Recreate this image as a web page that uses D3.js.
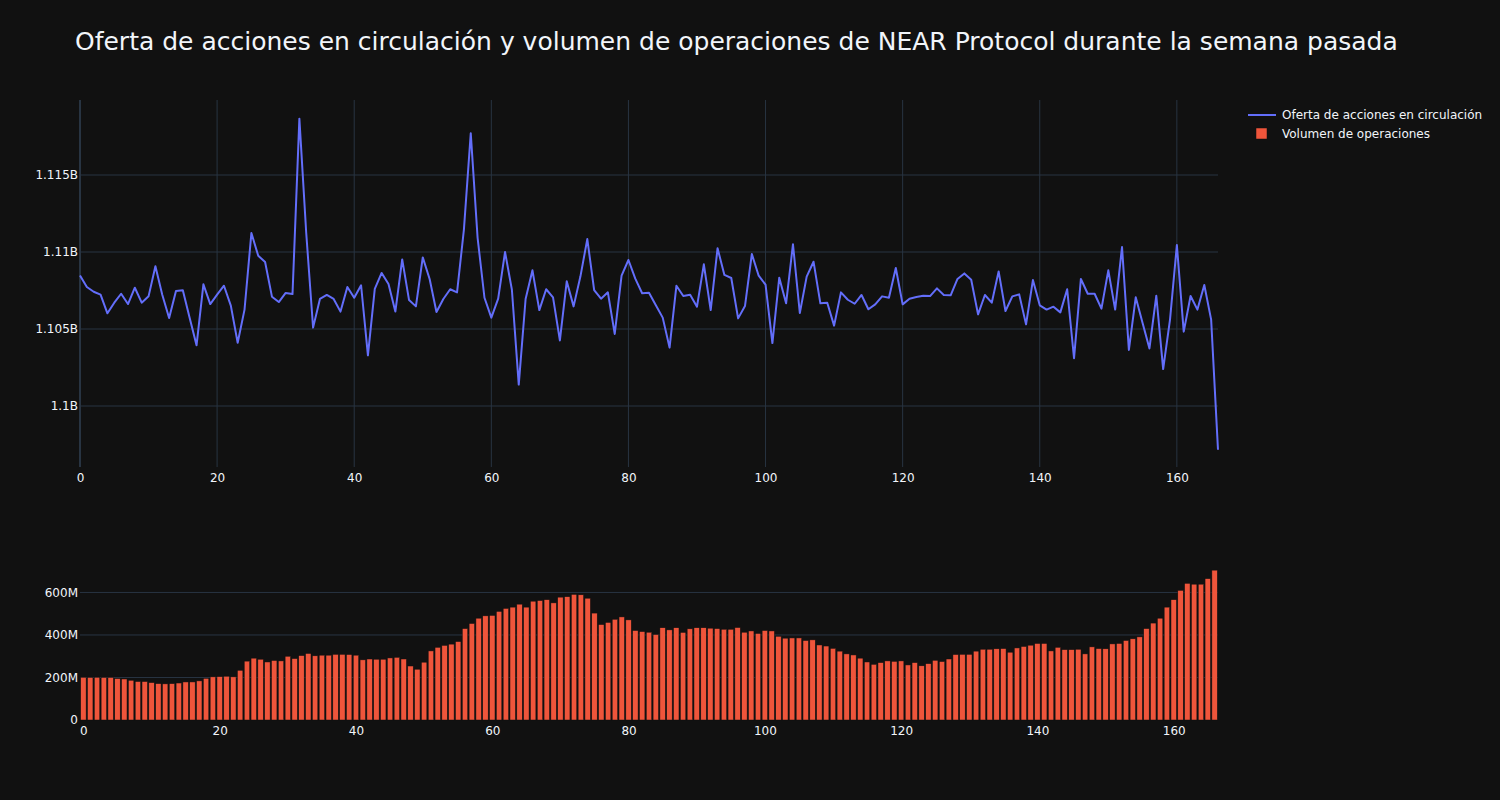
<!DOCTYPE html>
<html><head><meta charset="utf-8">
<script src="https://cdn.jsdelivr.net/npm/d3@7"></script>
<style>body{margin:0;background:#111111;}svg{display:block;font-family:"DejaVu Sans",sans-serif;}</style>
</head><body>
<svg id="chart" width="1500" height="800"></svg>
<script>
const title = "Oferta de acciones en circulación y volumen de operaciones de NEAR Protocol durante la semana pasada";
const lineName = "Oferta de acciones en circulación";
const barName = "Volumen de operaciones";
// circulating supply, millions of shares (index 0..166)
const supply = [1108.48,1107.73,1107.42,1107.23,1106.02,1106.71,1107.29,1106.62,1107.68,1106.71,
1107.12,1109.07,1107.23,1105.71,1107.47,1107.51,1105.71,1103.94,1107.90,1106.62,
1107.23,1107.81,1106.52,1104.11,1106.26,1111.23,1109.76,1109.35,1107.10,1106.75,
1107.34,1107.27,1118.66,1111.23,1105.09,1106.95,1107.21,1106.95,1106.13,1107.73,
1107.03,1107.84,1103.29,1107.60,1108.64,1107.92,1106.13,1109.52,1106.88,1106.47,
1109.65,1108.25,1106.10,1106.95,1107.58,1107.38,1111.45,1117.71,1110.91,1107.03,
1105.74,1106.97,1110.00,1107.55,1101.39,1106.95,1108.81,1106.23,1107.58,1107.06,
1104.26,1108.10,1106.47,1108.42,1110.84,1107.53,1106.97,1107.38,1104.68,1108.46,
1109.48,1108.27,1107.32,1107.36,1106.54,1105.74,1103.79,1107.81,1107.14,1107.23,
1106.45,1109.20,1106.23,1110.24,1108.51,1108.31,1105.69,1106.49,1109.87,1108.46,
1107.88,1104.09,1108.33,1106.67,1110.50,1106.04,1108.40,1109.37,1106.67,1106.71,
1105.22,1107.38,1106.90,1106.64,1107.21,1106.28,1106.60,1107.12,1107.03,1108.96,
1106.60,1106.97,1107.08,1107.16,1107.14,1107.64,1107.21,1107.19,1108.25,1108.61,
1108.20,1105.95,1107.21,1106.71,1108.74,1106.17,1107.12,1107.25,1105.30,1108.18,
1106.54,1106.26,1106.45,1106.08,1107.58,1103.10,1108.25,1107.29,1107.29,1106.32,
1108.81,1106.26,1110.32,1103.64,1107.06,1105.39,1103.74,1107.16,1102.40,1105.61,
1110.45,1104.83,1107.14,1106.26,1107.86,1105.61,1097.16];
// trading volume, millions
const volume = [201,200,201,200,200,195,193,187,181,181,
176,171,170,171,174,179,179,184,196,203,
204,206,203,234,277,291,286,273,280,278,
300,289,303,313,302,305,305,309,309,308,
305,283,287,286,286,292,295,287,254,239,
272,325,342,351,357,369,430,454,479,490,
492,511,525,531,545,531,559,562,566,551,
578,580,591,589,573,503,449,459,474,485,
471,421,416,413,402,434,424,434,412,429,
434,434,432,430,427,427,435,413,419,407,
421,419,394,385,386,386,374,377,353,348,
337,324,311,306,291,273,262,270,278,276,
278,259,270,255,265,281,275,287,308,309,
309,324,333,333,335,336,319,339,346,352,
360,360,325,342,331,331,333,311,344,336,
335,358,360,374,382,391,430,456,479,531,
566,610,643,639,639,665,705];
const xTicks = [0,20,40,60,80,100,120,140,160];
const supplyTicks = [1100,1105,1110,1115];
const volumeTicks = [0,200,400,600];

const svg = d3.select("#chart");
const W = 1500;
const L = 80, R = 1218;
const top1 = 100, bot1 = 467, top2 = 562.7, bot2 = 720;
const gridC = "#283442", textC = "#f2f5fa";
const FONT = "'DejaVu Sans',sans-serif";

svg.append("rect").attr("width",W).attr("height",800).attr("fill","#111111");

svg.append("text").attr("x",75).attr("y",50).attr("fill",textC)
  .attr("font-size",25).attr("font-family",FONT).text(title);

// Top chart
const x1 = d3.scaleLinear().domain([0,166]).range([L,R]);
const y1 = d3.scaleLinear().domain([1096.04,1119.87]).range([bot1,top1]);
const g1 = svg.append("g");
g1.selectAll("line.vg").data(xTicks.filter(d=>d>0)).join("line")
  .attr("x1",d=>x1(d)).attr("x2",d=>x1(d)).attr("y1",top1).attr("y2",bot1)
  .attr("stroke",gridC).attr("stroke-width",1);
g1.selectAll("line.hg").data(supplyTicks).join("line")
  .attr("x1",L).attr("x2",R).attr("y1",d=>y1(d)).attr("y2",d=>y1(d))
  .attr("stroke",gridC).attr("stroke-width",1);
g1.append("line").attr("x1",x1(0)).attr("x2",x1(0)).attr("y1",top1).attr("y2",bot1)
  .attr("stroke",gridC).attr("stroke-width",2);
const ax1 = d3.axisBottom(x1).tickValues(xTicks).tickSize(0).tickPadding(6);
const gx1 = svg.append("g").attr("transform",`translate(0,${bot1})`).call(ax1);
const ay1 = d3.axisLeft(y1).tickValues(supplyTicks).tickSize(0).tickPadding(2)
  .tickFormat(d=> (d/1000).toString().replace(/0+$/,"") + "B");
const gy1 = svg.append("g").attr("transform",`translate(${L},0)`).call(ay1);

const line = d3.line().x((d,i)=>x1(i)).y(d=>y1(d));
svg.append("path").datum(supply).attr("d",line).attr("fill","none")
  .attr("stroke","#636efa").attr("stroke-width",2).attr("stroke-linejoin","round");

// Bottom chart
const x2 = d3.scaleLinear().domain([-0.5,166.5]).range([L,R]);
const y2 = d3.scaleLinear().domain([0,740]).range([bot2,top2]);
svg.append("g").selectAll("line").data(volumeTicks.filter(d=>d>0)).join("line")
  .attr("x1",L).attr("x2",R).attr("y1",d=>y2(d)).attr("y2",d=>y2(d))
  .attr("stroke",gridC).attr("stroke-width",1);
const bw = (x2(1)-x2(0))*0.8;
svg.append("g").selectAll("rect").data(volume).join("rect")
  .attr("x",(d,i)=>x2(i)-bw/2).attr("width",bw)
  .attr("y",d=>y2(d)).attr("height",d=>y2(0)-y2(d))
  .attr("fill","#EF553B").attr("stroke","#111111").attr("stroke-width",0.5);
const ax2 = d3.axisBottom(x2).tickValues(xTicks).tickSize(0).tickPadding(6);
const gx2 = svg.append("g").attr("transform",`translate(0,${bot2})`).call(ax2);
const ay2 = d3.axisLeft(y2).tickValues(volumeTicks).tickSize(0).tickPadding(2)
  .tickFormat(d=> d===0 ? "0" : d + "M");
const gy2 = svg.append("g").attr("transform",`translate(${L},0)`).call(ay2);

[gx1,gy1,gx2,gy2].forEach(g=>{
  g.select(".domain").remove();
  g.selectAll("text").attr("fill",textC).attr("font-size",12).attr("font-family",FONT);
});

// Legend
const lg = svg.append("g").attr("font-family",FONT);
lg.append("line").attr("x1",1248).attr("x2",1276).attr("y1",115).attr("y2",115)
  .attr("stroke","#636efa").attr("stroke-width",2);
lg.append("text").attr("x",1282).attr("y",119).attr("fill",textC).attr("font-size",12).text(lineName);
lg.append("rect").attr("x",1256).attr("y",128).attr("width",11).attr("height",11)
  .attr("fill","#EF553B").attr("stroke","#111111").attr("stroke-width",0.5);
lg.append("text").attr("x",1282).attr("y",138).attr("fill",textC).attr("font-size",12).text(barName);
</script>
</body></html>
